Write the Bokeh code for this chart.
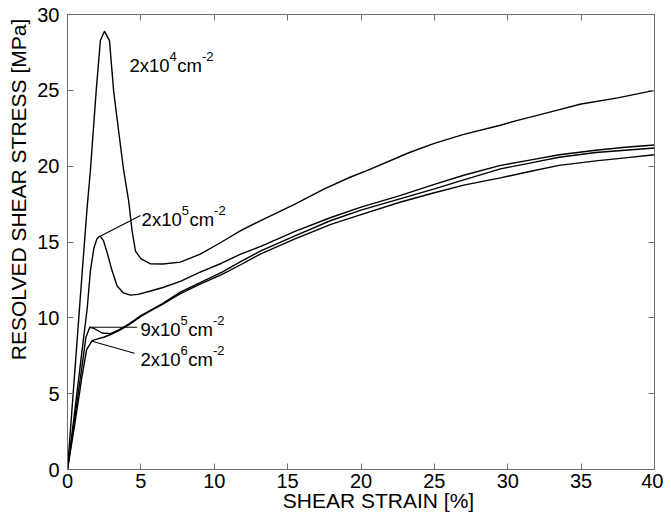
from bokeh.plotting import figure
from bokeh.models import LinearAxis, FixedTicker, Range1d, CustomJSTickFormatter
from bokeh.core.properties import value
from bokeh.embed import file_html
from bokeh.resources import INLINE

# ---- data ----
a_x = [0, 0.5, 1.0, 1.34, 1.56, 1.95, 2.24, 2.52, 2.86, 3.15, 3.5, 3.83, 4.17, 4.4, 4.63,
       5.0, 5.65, 6.5, 7.69, 9.05, 10.5, 11.8, 13.13, 15.5, 17.5, 19.25, 20.4, 23.3, 25,
       27, 29.5, 30.6, 33, 35, 37.5, 40]
a_y = [0, 6.5, 13.0, 17.3, 19.7, 24.9, 28.28, 28.9, 28.28, 24.9, 22.2, 19.7, 17.7, 15.75, 14.4,
       13.9, 13.56, 13.55, 13.67, 14.2, 15.0, 15.75, 16.4, 17.5, 18.5, 19.27, 19.7, 20.9, 21.5,
       22.1, 22.7, 23.0, 23.6, 24.1, 24.5, 25.0]

b_x = [0, 0.5, 1.0, 1.34, 1.56, 1.8, 2.0, 2.2, 2.45, 2.7, 3.04, 3.38, 3.8, 4.29, 4.8, 5.6,
       6.5, 7.69, 9, 10.5, 11.8, 13.13, 15.5, 17.9, 20, 22.65, 25, 27, 29.5, 31.5, 33.5, 36,
       38, 40]
b_y = [0, 3.9, 7.9, 10.6, 13.1, 14.6, 15.2, 15.4, 15.1, 14.3, 13.1, 12.1, 11.65, 11.5, 11.55,
       11.75, 12.0, 12.4, 13.0, 13.6, 14.2, 14.7, 15.7, 16.6, 17.3, 18.06, 18.8, 19.4, 20.05,
       20.4, 20.75, 21.05, 21.25, 21.4]

c_x = [0, 0.5, 1.0, 1.25, 1.52, 1.8, 2.36, 2.93, 3.5, 4.2, 5, 5.65, 6.5, 7.69, 9, 10.5,
       11.8, 13.13, 15.5, 17.9, 20, 22.65, 25, 27, 29.5, 31.5, 33.5, 36, 38, 40]
c_y = [0, 3.4, 6.9, 8.7, 9.38, 9.3, 9.0, 8.96, 9.2, 9.6, 10.15, 10.5, 10.95, 11.7, 12.3, 13.0,
       13.7, 14.4, 15.4, 16.4, 17.1, 17.84, 18.5, 19.1, 19.82, 20.2, 20.59, 20.9, 21.05, 21.2]

d_x = [0, 0.5, 1.0, 1.3, 1.68, 2.0, 2.47, 2.93, 3.5, 4.2, 5, 5.65, 6.5, 7.69, 9, 10.5,
       11.8, 13.13, 15.5, 17.9, 20, 22.65, 25, 27, 29.5, 31.5, 33.5, 36, 38, 40]
d_y = [0, 3.0, 6.2, 7.9, 8.5, 8.6, 8.72, 8.9, 9.15, 9.55, 10.1, 10.45, 10.9, 11.6, 12.2, 12.85,
       13.5, 14.2, 15.2, 16.15, 16.8, 17.62, 18.25, 18.75, 19.23, 19.65, 20.05, 20.35, 20.55, 20.75]

# annotation labels: base mantissa, exponent of 10
label_base = ["2x10", "2x10", "9x10", "2x10"]
label_exp = ["4", "5", "5", "6"]
label_x = [4.22, 5.05, 4.97, 4.97]
label_y = [26.65, 16.5, 9.2, 7.27]

# leader lines (from curve feature to label)
leader_x0 = [2.2, 1.52, 1.68]
leader_y0 = [15.36, 9.38, 8.45]
leader_x1 = [4.97, 4.74, 4.56]
leader_y1 = [16.74, 9.38, 7.67]

x_ticks = [0, 5, 10, 15, 20, 25, 30, 35, 40]
y_ticks = [0, 5, 10, 15, 20, 25, 30]

FONT = "Liberation Sans"
AXIS_GRAY = "#6f6f6f"
NB = "\u00a0"

p = figure(width=663, height=526, output_backend="svg", toolbar_location=None,
           x_range=Range1d(0, 40), y_range=Range1d(0, 30),
           min_border_left=67, min_border_right=9, min_border_top=14, min_border_bottom=57)
p.xgrid.visible = False
p.ygrid.visible = False
p.outline_line_color = AXIS_GRAY
p.background_fill_color = "white"
p.border_fill_color = "white"

for xs, ys in [(a_x, a_y), (b_x, b_y), (c_x, c_y), (d_x, d_y)]:
    p.line(xs, ys, line_color="black", line_width=1.4)

p.segment(x0=leader_x0, y0=leader_y0, x1=leader_x1, y1=leader_y1,
          line_color="black", line_width=1.1)

BASE_PX = 18.5
SUP_PX = 13
base_w = 2.168 * BASE_PX
sup1_w = 0.556 * SUP_PX
cm_w = (0.5 + 0.833) * BASE_PX
SUP_DY = -9
p.text(x=label_x, y=label_y, text=label_base, text_font=value(FONT),
       text_font_size=f"{BASE_PX}px", text_color="black", text_baseline="alphabetic")
p.text(x=label_x, y=label_y, text=label_exp, text_font=value(FONT),
       text_font_size=f"{SUP_PX}px", text_color="black", text_baseline="alphabetic",
       x_offset=base_w, y_offset=SUP_DY)
p.text(x=label_x, y=label_y, text=["cm"] * 4, text_font=value(FONT),
       text_font_size=f"{BASE_PX}px", text_color="black", text_baseline="alphabetic",
       x_offset=base_w + sup1_w + 0.5)
p.text(x=label_x, y=label_y, text=["-2"] * 4, text_font=value(FONT),
       text_font_size=f"{SUP_PX}px", text_color="black", text_baseline="alphabetic",
       x_offset=base_w + sup1_w + 0.5 + cm_w, y_offset=SUP_DY)

# main axes
for ax, ticks in [(p.xaxis[0], x_ticks), (p.yaxis[0], y_ticks)]:
    ax.ticker = FixedTicker(ticks=ticks)
    ax.axis_line_color = AXIS_GRAY
    ax.major_tick_line_color = AXIS_GRAY
    ax.major_tick_in = 6
    ax.major_tick_out = 0
    ax.minor_tick_line_color = None
    ax.major_label_text_font = FONT
    ax.major_label_text_font_size = "20px"
    ax.major_label_text_color = "black"
    ax.axis_label_text_font = FONT
    ax.axis_label_text_font_style = "normal"
    ax.axis_label_text_color = "black"
    ax.axis_label_text_font_size = "21px"

p.xaxis.axis_label = NB * 6 + "SHEAR STRAIN [%]"
p.yaxis.axis_label = NB * 18 + "RESOLVED SHEAR STRESS [MPa]"
p.xaxis.major_label_standoff = 4
p.yaxis.major_label_standoff = 8
p.xaxis.axis_label_standoff = -2
p.yaxis.axis_label_standoff = 4

# mirrored axes (ticks only, no labels)
blank = CustomJSTickFormatter(code="return ''")
top = LinearAxis(ticker=FixedTicker(ticks=x_ticks), formatter=blank)
right = LinearAxis(ticker=FixedTicker(ticks=y_ticks), formatter=blank)
for ax in (top, right):
    ax.axis_line_color = AXIS_GRAY
    ax.major_tick_line_color = AXIS_GRAY
    ax.major_tick_in = 6
    ax.major_tick_out = 0
    ax.minor_tick_line_color = None
    ax.major_label_standoff = 0
p.add_layout(top, "above")
p.add_layout(right, "right")

open("out.html", "w").write(file_html(p, INLINE))
